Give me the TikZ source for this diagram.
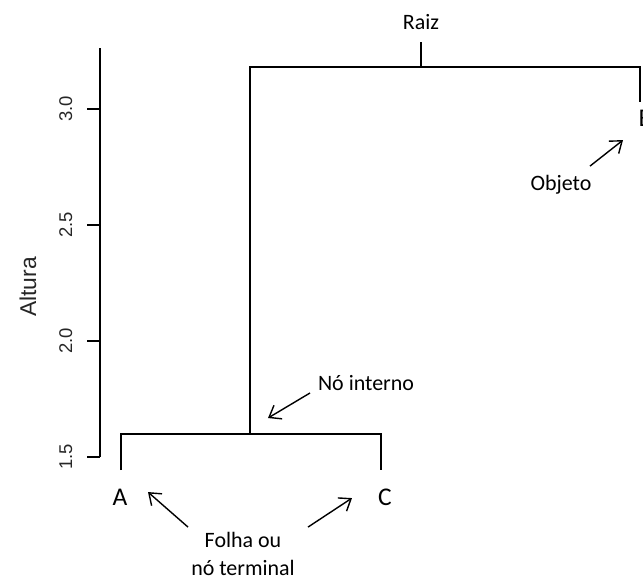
\documentclass[tikz,border=0pt]{standalone}
\usepackage{fontspec}
\setmainfont{Carlito}
\newfontfamily\axisfont{Liberation Sans}
\usetikzlibrary{arrows.meta}

\begin{document}
\begin{tikzpicture}[x=1cm, y=4.64cm, line width=0.9pt,
        rotulo/.style={font=\fontsize{12.5}{16}\selectfont, inner sep=1pt},
        folha/.style={font=\fontsize{14.5}{16}\selectfont, inner sep=1pt},
        seta/.style={-{Straight Barb[length=6pt, width=9pt]}, line width=0.8pt}]
        \useasboundingbox (0, 0.974) rectangle (12.86, 3.470);

        % eixo da altura
        \draw (2.0, 1.5) -- (2.0, 3.263);
        \foreach \h in {1.5, 2.0, 2.5, 3.0} {
            \draw (2.0, \h) -- (1.74, \h);
            \node[rotate=90, anchor=south, inner sep=0, font=\axisfont\fontsize{10.5}{12}\selectfont, text=black!85] at (1.46, \h) {\h};
        }
        \node[rotate=90, font=\axisfont\fontsize{13}{15}\selectfont, text=black!85] (altura) at (0.56, 2.233) {Altura};

        % dendrograma
        \coordinate (a) at (2.42, 1.444);
        \coordinate (c) at (7.62, 1.444);
        \coordinate (b) at (12.80, 3.030);
        \coordinate (interno) at (5.0, 1.599);
        \coordinate (raiz) at (8.42, 3.181);
        \coordinate (topo) at (8.42, 3.289);
        \draw (a) |- (interno) -| (c);
        \draw (interno) |- (raiz) -| (b);
        \draw (raiz) -- (topo);

        % rotulos
        \node[folha] (rA) at (2.40, 1.328) {A};
        \node[folha] (rC) at (7.70, 1.328) {C};
        \node[folha, anchor=west] (rB) at (12.72, 2.961) {B};
        \node[rotulo] (rRaiz) at (8.42, 3.375) {Raiz};
        \node[rotulo] (objeto) at (11.22, 2.672) {Objeto};
        \node[rotulo] (noint) at (7.32, 1.819) {Nó interno};
        \node[rotulo, align=center] (folhas) at (4.86, 1.082) {Folha ou\\nó terminal};

        % setas
        \coordinate (o1) at (11.80, 2.754);
        \coordinate (o2) at (12.46, 2.866);
        \coordinate (n1) at (6.20, 1.776);
        \coordinate (n2) at (5.36, 1.668);
        \coordinate (fa1) at (3.76, 1.198);
        \coordinate (fa2) at (2.96, 1.349);
        \coordinate (fc1) at (6.16, 1.198);
        \coordinate (fc2) at (7.04, 1.323);
        \draw[seta] (o1) -- (o2);
        \draw[seta] (n1) -- (n2);
        \draw[seta] (fa1) -- (fa2);
        \draw[seta] (fc1) -- (fc2);
\end{tikzpicture}
\end{document}
